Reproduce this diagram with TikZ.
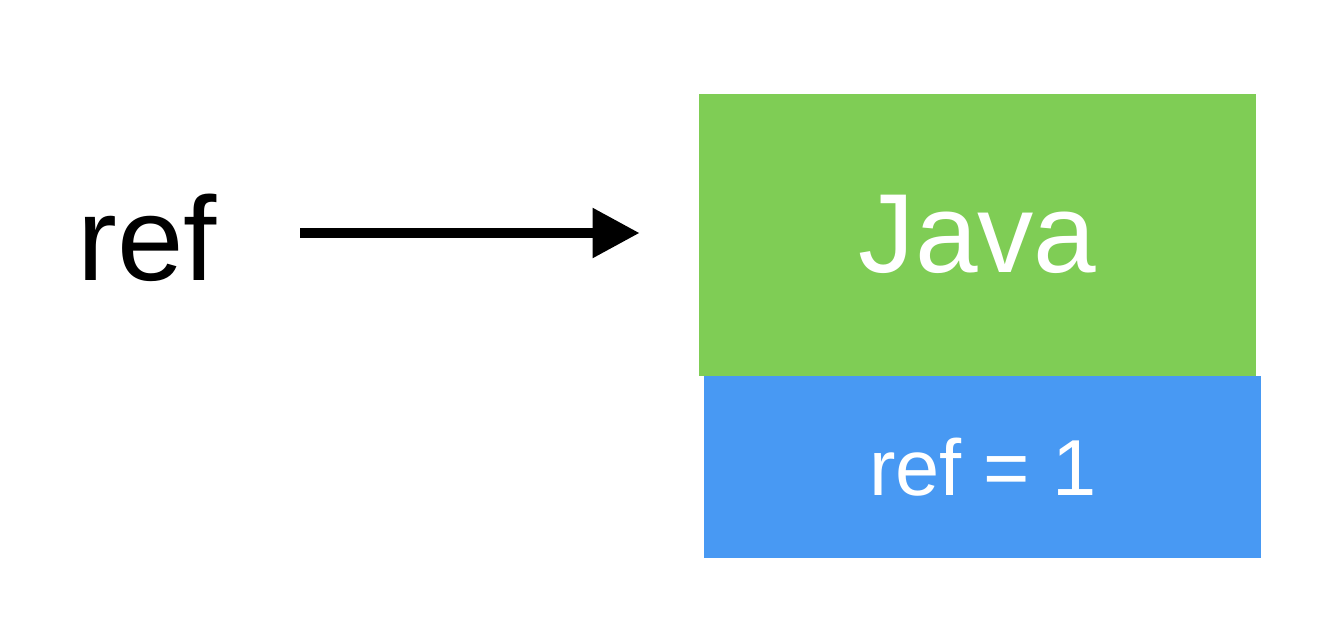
\documentclass[tikz,border=0pt]{standalone}
\usepackage{fontspec}
\setmainfont{Liberation Sans}
\usetikzlibrary{arrows.meta,positioning}
\definecolor{ObjGreen}{HTML}{7FCD55}
\definecolor{CountBlue}{HTML}{4899F3}

\begin{document}
\begin{tikzpicture}[
    objbox/.style={fill=ObjGreen, minimum width=55.7mm, minimum height=28.2mm,
      inner sep=0pt, text=white, font=\fontsize{32}{36}\selectfont},
    countbox/.style={fill=CountBlue, minimum width=55.7mm, minimum height=18.2mm,
      inner sep=0pt, text=white, font=\fontsize{22.6}{26}\selectfont},
    arr/.style={-{Triangle[length=4.7mm, width=4.8mm]}, line width=2.6pt,
      shorten >=5.9mm}
  ]
    \useasboundingbox (0,0) rectangle (13.44,6.26);
    \node[objbox, anchor=north west] (obj) at (6.985,5.33) {Java};
    \node[countbox, anchor=north west] (count) at (7.035,2.51) {ref = 1};
    \node[font=\fontsize{34}{38}\selectfont] (ref) at (1.47,3.88) {ref};
    \coordinate (tail) at (3.00,3.93);
    \draw[arr] (tail) -- (tail -| obj.west);
  \end{tikzpicture}
\end{document}
